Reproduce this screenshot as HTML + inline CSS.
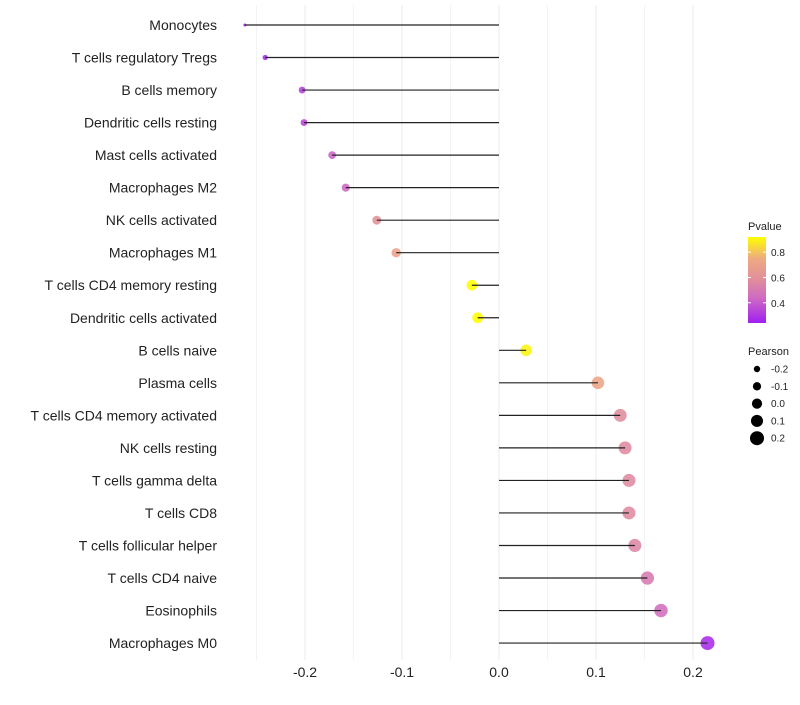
<!DOCTYPE html>
<html><head><meta charset="utf-8"><style>
body{margin:0;background:#fff;font-family:"Liberation Sans",sans-serif}
</style></head><body>
<svg id="c" width="800" height="700" xmlns="http://www.w3.org/2000/svg"></svg>
<script>
const categories=["Monocytes","T cells regulatory  Tregs","B cells memory","Dendritic cells resting","Mast cells activated","Macrophages M2","NK cells activated","Macrophages M1","T cells CD4 memory resting","Dendritic cells activated","B cells naive","Plasma cells","T cells CD4 memory activated","NK cells resting","T cells gamma delta","T cells CD8","T cells follicular helper","T cells CD4 naive","Eosinophils","Macrophages M0"];
const pearson=[-0.262,-0.241,-0.203,-0.201,-0.172,-0.158,-0.126,-0.106,-0.028,-0.022,0.028,0.102,0.125,0.130,0.134,0.134,0.140,0.153,0.167,0.215];
const pvalue=[0.24,0.27,0.33,0.34,0.42,0.43,0.60,0.70,0.92,0.92,0.90,0.72,0.58,0.57,0.57,0.57,0.55,0.50,0.45,0.27];
const xTicks=[-0.2,-0.1,0.0,0.1,0.2];
const xTickLabels=["-0.2","-0.1","0.0","0.1","0.2"];
const pTicks=[0.4,0.6,0.8];
const sizeTicks=[-0.2,-0.1,0.0,0.1,0.2];

const NS="http://www.w3.org/2000/svg";
const svg=document.getElementById('c');
function el(t,a,p){const e=document.createElementNS(NS,t);for(const k in a)e.setAttribute(k,a[k]);(p||svg).appendChild(e);return e;}
const x=v=>499+v*970;
const y=i=>25+i*32.53;
const pMin=0.24,pMax=0.92;
const stops=[[0,[160,32,240]],[0.3,[208,108,192]],[0.52,[226,144,154]],[0.75,[238,170,128]],[1,[255,255,0]]];
function col(p){let t=Math.max(0,Math.min(1,(p-pMin)/(pMax-pMin)));for(let i=1;i<stops.length;i++){if(t<=stops[i][0]){const [a,ca]=stops[i-1],[b,cb]=stops[i];const f=(t-a)/(b-a);return 'rgb('+ca.map((c,j)=>Math.round(c+(cb[j]-c)*f)).join(',')+')';}}return 'rgb(255,255,0)';}
const sMin=-0.262,sMax=0.215;
const rad=v=>1.5+5.5*Math.sqrt(Math.max(0,(v-sMin)/(sMax-sMin)));

// grid
for(let v=-0.25;v<=0.2001;v+=0.05){
  const g=el('line',{x1:x(v),x2:x(v),y1:5,y2:660,stroke:'#ebebeb','stroke-width':Math.abs(Math.round(v*20)%2)===0?1:0.6});
  
}
xTicks.forEach((v,i)=>{const t=el('text',{x:x(v),y:677,'text-anchor':'middle','font-size':14,fill:'#222'});t.textContent=xTickLabels[i];
});
categories.forEach((c,i)=>{
  const t=el('text',{x:217,y:y(i)+5,'text-anchor':'end','font-size':14,fill:'#222'});t.textContent=c;
  
  const d=el('circle',{cx:x(pearson[i]),cy:y(i),r:rad(pearson[i]),fill:col(pvalue[i]),'fill-opacity':0.88});
  
  const l=el('line',{x1:x(0),x2:x(pearson[i]),y1:y(i),y2:y(i),stroke:'#222','stroke-width':1.2});
  
});
// color legend
let t=el('text',{x:748,y:230,'font-size':11,fill:'#222'});t.textContent='Pvalue';

const defs=el('defs',{});const lg=el('linearGradient',{id:'pg',x1:0,y1:1,x2:0,y2:0},defs);
stops.forEach(s=>el('stop',{offset:s[0],'stop-color':'rgb('+s[1].join(',')+')'},lg));
const bar=el('rect',{x:748,y:237,width:18,height:86,fill:'url(#pg)'});

const py=p=>323-(p-pMin)/(pMax-pMin)*86;
pTicks.forEach(p=>{el('line',{x1:748,x2:751,y1:py(p),y2:py(p),stroke:'#fff'});el('line',{x1:763,x2:766,y1:py(p),y2:py(p),stroke:'#fff'});
const tt=el('text',{x:771,y:py(p)+4,'font-size':10,fill:'#222'});tt.textContent=p.toFixed(1);
});
// size legend
t=el('text',{x:748,y:355,'font-size':11,fill:'#222'});t.textContent='Pearson';

sizeTicks.forEach((v,i)=>{const cy=369+i*17.3;
const c=el('circle',{cx:757,cy:cy,r:3.2+i*0.95,fill:'#000'});

const tt=el('text',{x:771,y:cy+3.5,'font-size':10,fill:'#222'});tt.textContent=v.toFixed(1);
});
</script>
</body></html>
